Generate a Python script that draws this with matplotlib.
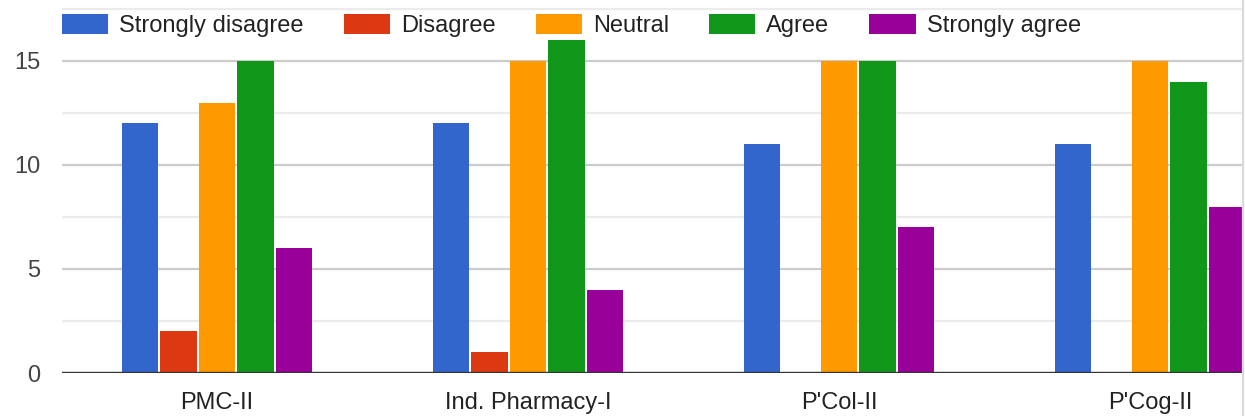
import matplotlib
matplotlib.use('Agg')
import matplotlib.pyplot as plt
from matplotlib.lines import Line2D
from matplotlib.patches import Rectangle
import numpy as np

plt.rcParams['font.family'] = ['Liberation Sans', 'DejaVu Sans']

courses = ['PMC-II', 'Ind. Pharmacy-I', "P'Col-II", "P'Cog-II"]
responses = ['Strongly disagree', 'Disagree', 'Neutral', 'Agree', 'Strongly agree']
strongly_disagree = [12, 12, 11, 11]
disagree = [2, 1, 0, 0]
neutral = [13, 15, 15, 15]
agree = [15, 16, 15, 14]
strongly_agree = [6, 4, 7, 8]
series = [strongly_disagree, disagree, neutral, agree, strongly_agree]
colors = ['#3366cc', '#dc3912', '#ff9900', '#109618', '#990099']

W, H = 1245, 416
fig = plt.figure(figsize=(W / 100, H / 100), dpi=100)
# plot area runs past the right edge of the picture (cropped chart)
ax = fig.add_axes([61.5 / W, 43 / H, 1244 / W, 373 / H])

x = np.arange(len(courses))
slot = 0.1235
for i, (vals, c) in enumerate(zip(series, colors)):
    ax.bar(x + (i - 2) * slot, vals, width=slot - 0.006, color=c,
           label=responses[i], zorder=3)

ax.set_xlim(-0.5, 3.5)
ax.set_ylim(0, 17.93)
ax.set_yticks([0, 5, 10, 15])
ax.set_yticks([2.5, 7.5, 12.5, 17.5], minor=True)
ax.grid(True, axis='y', which='major', color='#cccccc', linewidth=1.6, zorder=0)
ax.grid(True, axis='y', which='minor', color='#ebebeb', linewidth=1.6, zorder=0)
ax.axhline(0, color='#333333', linewidth=2.4, zorder=4)
for s in ax.spines.values():
    s.set_visible(False)
ax.set_xticks(x)
ax.set_xticklabels(courses)
ax.tick_params(axis='both', which='both', length=0, labelsize=17)
ax.tick_params(axis='y', pad=15, labelcolor='#444444')
ax.tick_params(axis='x', pad=14, labelcolor='#222222')

leg = fig.legend(loc='upper left', bbox_to_anchor=(62 / W, 1 - 14 / H),
                 bbox_transform=fig.transFigure, ncol=5, frameon=False,
                 fontsize=17, handlelength=1.95, handleheight=0.93,
                 handletextpad=0.47, columnspacing=1.7, borderpad=0,
                 borderaxespad=0)
for t in leg.get_texts():
    t.set_color('#222222')

# crop edge: white strip and grey border line
fig.add_artist(Rectangle((1242 / W, 0), 3 / W, 1, transform=fig.transFigure,
                         facecolor='white', edgecolor='none', zorder=10))
fig.add_artist(Line2D([1242.5 / W, 1242.5 / W], [0, 1], transform=fig.transFigure,
                      color='#dadada', linewidth=1.6, zorder=11))

fig.savefig('out.png', dpi=100)
